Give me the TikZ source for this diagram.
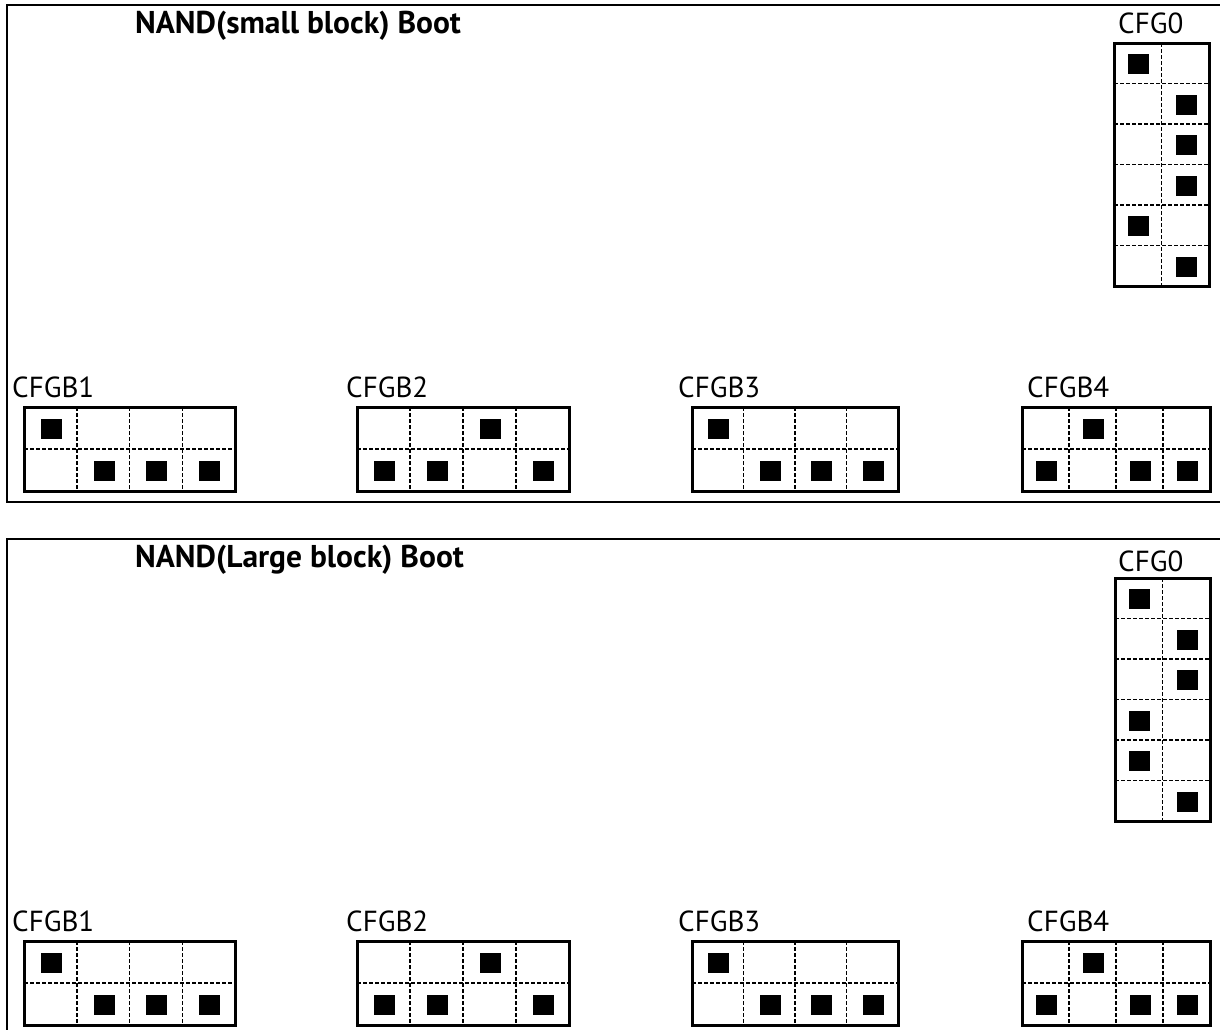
\documentclass[tikz,border=0pt]{standalone}
\usepackage{fontspec}
\setsansfont{PT Sans}
\newcommand\jgrid[8]{%
  \pgfmathtruncatemacro\jnc{#6-1}%
  \pgfmathtruncatemacro\jnr{#7-1}%
  \foreach \k in {1,...,\jnc}{\draw[divline] ({#2+(#4-#2)*\k/#6},#3) -- ({#2+(#4-#2)*\k/#6},#5);}
  \foreach \k in {1,...,\jnr}{\draw[divline] (#2,{#3+(#5-#3)*\k/#7}) -- (#4,{#3+(#5-#3)*\k/#7});}
  \draw[boxline] (#2,#3) rectangle (#4,#5);
  \foreach \c/\r in {#8}{\node[pinsq] (#1-\c-\r) at ({#2+(#4-#2)*(\c-0.5)/#6+1},{#3+(#5-#3)*(\r-0.5)/#7+1}) {};}
}
\begin{document}
\begin{tikzpicture}[x=1pt,y=-1pt,
  frame/.style={line width=2pt},
  boxline/.style={line width=3pt},
  divline/.style={line width=1.5pt, dash pattern=on 4pt off 2pt},
  pinsq/.style={fill=black, draw=none, minimum width=21pt, minimum height=20pt, inner sep=0pt},
  lbl/.style={font=\sffamily\fontsize{29}{29}\selectfont, anchor=base west, inner sep=0pt},
  ttl/.style={font=\sffamily\bfseries\fontsize{31.5}{31.5}\selectfont, anchor=base west, inner sep=0pt}]
\useasboundingbox (0,0) rectangle (1220,1029);
% top panel
\draw[frame] (1230,5) -- (7,5) -- (7,502) -- (1230,502);
\node[ttl] (t1) at (135,33) {NAND(small block) Boot};
\node[lbl] (a0) at (1118,33) {CFG0};
\jgrid{A0}{1114}{43}{1209}{286}{2}{6}{1/1,2/2,2/3,2/4,1/5,2/6}
\node[lbl] (a1) at (12,397) {CFGB1};
\jgrid{A1}{24}{407}{235}{491}{4}{2}{1/1,2/2,3/2,4/2}
\node[lbl] (a2) at (346,397) {CFGB2};
\jgrid{A2}{357}{407}{569}{491}{4}{2}{3/1,1/2,2/2,4/2}
\node[lbl] (a3) at (678,397) {CFGB3};
\jgrid{A3}{692}{407}{898}{491}{4}{2}{1/1,2/2,3/2,4/2}
\node[lbl] (a4) at (1027,397) {CFGB4};
\jgrid{A4}{1022}{407}{1210}{491}{4}{2}{2/1,1/2,3/2,4/2}
% bottom panel
\draw[frame] (1230,539) -- (7,539) -- (7,1040);
\node[ttl] (t2) at (135,567) {NAND(Large block) Boot};
\node[lbl] (b0) at (1118,571) {CFG0};
\jgrid{B0}{1115}{578}{1210}{821}{2}{6}{1/1,2/2,2/3,1/4,1/5,2/6}
\node[lbl] (b1) at (12,931) {CFGB1};
\jgrid{B1}{24}{941}{235}{1025}{4}{2}{1/1,2/2,3/2,4/2}
\node[lbl] (b2) at (346,931) {CFGB2};
\jgrid{B2}{357}{941}{569}{1025}{4}{2}{3/1,1/2,2/2,4/2}
\node[lbl] (b3) at (678,931) {CFGB3};
\jgrid{B3}{692}{941}{898}{1025}{4}{2}{1/1,2/2,3/2,4/2}
\node[lbl] (b4) at (1027,931) {CFGB4};
\jgrid{B4}{1022}{941}{1210}{1025}{4}{2}{2/1,1/2,3/2,4/2}
\end{tikzpicture}
\end{document}
